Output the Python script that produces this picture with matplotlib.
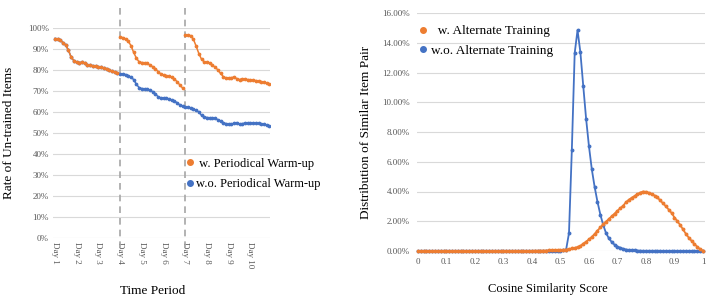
import matplotlib
matplotlib.use("Agg")
import matplotlib.pyplot as plt
from matplotlib.lines import Line2D
from matplotlib.ticker import PercentFormatter

plt.rcParams['font.family'] = ['Liberation Serif', 'DejaVu Serif']

ORANGE = '#ED7D31'
BLUE = '#4472C4'
GRID = '#D9D9D9'
TICK = '#595959'

# ---- left chart: rate of un-trained items, 8 samples per day ----
days = ['Day 1', 'Day 2', 'Day 3', 'Day 4', 'Day 5',
        'Day 6', 'Day 7', 'Day 8', 'Day 9', 'Day 10']
per_day = 8
warmup_days = [4, 7]

# w. periodical warm-up, split at each warm-up
warm_seg1 = [95.1, 95.0, 94.2, 93.2, 92.0, 89.5, 86.2, 84.6,
             83.8, 83.7, 83.8, 83.4, 82.6, 82.4, 82.2, 81.9,
             81.7, 81.4, 81.1, 80.8, 80.1, 79.6, 79.1, 78.6]
warm_seg2 = [95.7, 95.6, 95.0, 93.8, 91.8, 88.5, 85.8, 84.0,
             83.7, 83.6, 83.3, 82.5, 81.7, 80.7, 79.4, 78.2,
             77.6, 77.5, 77.3, 76.6, 75.8, 74.6, 73.0, 71.6]
warm_seg3 = [96.9, 96.8, 96.5, 94.8, 91.5, 88.0, 85.2, 84.0,
             83.8, 83.6, 82.4, 81.5, 80.2, 78.5, 77.0, 76.4,
             76.3, 76.5, 76.8, 76.0, 75.6, 76.0, 75.8, 75.6,
             75.4, 75.3, 75.1, 74.9, 74.6, 74.2, 73.9, 73.5]
# w.o. warm-up: same as above for days 1-3, then keeps decaying
nowarm_rest = [78.3, 78.2, 78.0, 77.5, 76.7, 75.6, 73.3, 71.8,
               71.3, 71.2, 71.0, 70.5, 69.8, 68.8, 67.4, 66.9,
               66.8, 66.7, 66.4, 65.9, 65.3, 64.6, 63.5, 62.8,
               62.6, 62.5, 62.1, 61.5, 60.9, 60.2, 58.5, 57.8,
               57.5, 57.4, 57.3, 57.1, 56.5, 55.9, 55.1, 54.6,
               54.5, 54.5, 54.7, 55.1, 54.4, 54.6, 54.9, 54.9,
               54.9, 54.8, 54.8, 54.7, 54.5, 54.2, 53.9, 53.6]
nowarm = warm_seg1 + nowarm_rest

# ---- right chart: cosine similarity distribution (percent) ----
scores = [i / 100 for i in range(101)]
alt_train = ([0.0] * 30 + [0.01] * 11 +
             [0.02, 0.02, 0.02, 0.03, 0.03, 0.04, 0.04, 0.05, 0.05,
              0.06, 0.08, 0.10, 0.13, 0.17, 0.21, 0.27, 0.34, 0.50,
              0.63, 0.78, 0.95, 1.15, 1.37, 1.58, 1.79, 1.98, 2.16,
              2.34, 2.52, 2.70, 2.88, 3.05, 3.28, 3.45, 3.58, 3.70,
              3.82, 3.93, 4.00, 3.98, 3.92, 3.84, 3.73, 3.60, 3.40,
              3.20, 3.00, 2.78, 2.55, 2.25, 2.00, 1.75, 1.45, 1.15,
              0.90, 0.68, 0.47, 0.28, 0.12, 0.03])
no_alt_train = ([0.0] * 45 +
                [0.01, 0.01, 0.01, 0.02, 0.02, 0.03, 0.05,
                 0.10, 1.20, 6.80, 13.30, 14.85, 13.35, 11.10, 8.90,
                 7.05, 5.50, 4.30, 3.30, 2.45, 1.75, 1.20, 0.85,
                 0.60, 0.42, 0.30, 0.22, 0.15, 0.10, 0.07, 0.05,
                 0.04, 0.03, 0.02] + [0.01] * 7 + [0.0] * 15)

fig = plt.figure(figsize=(7.27, 2.97), dpi=100)

# ================= left =================
ax1 = fig.add_axes([53 / 727, 1 - 238.3 / 297, 217 / 727, 210 / 297])
n = len(nowarm)
idx = list(range(n))
ax1.plot(idx, nowarm, color=BLUE, lw=1.1, marker='o', ms=1.7, zorder=3)
start = 0
for seg in (warm_seg1, warm_seg2, warm_seg3):
    xs = list(range(start, start + len(seg)))
    ax1.plot(xs, seg, color=ORANGE, lw=1.1, marker='o', ms=1.7, zorder=4)
    start += len(seg)

for d in warmup_days:
    ax1.axvline((d - 1) * per_day, ymin=-0.048, ymax=1.11, clip_on=False,
                color='#A6A6A6', lw=1.2, dashes=(4, 3), zorder=2)

ax1.set_ylim(0, 100)
ax1.set_xlim(-0.7, n - 0.8)
ax1.set_yticks(range(0, 101, 10))
ax1.yaxis.set_major_formatter(PercentFormatter(decimals=0))
ax1.set_xticks([i * per_day for i in range(len(days))])
ax1.set_xticklabels(days, rotation=-90, va='top', ha='center')
ax1.grid(axis='y', color=GRID, lw=0.8)
ax1.set_axisbelow(True)
for s in ax1.spines.values():
    s.set_visible(False)
ax1.tick_params(length=0, labelsize=6.5, labelcolor=TICK, pad=3)
ax1.set_ylabel('Rate of Un-trained Items', fontsize=9.5)
ax1.yaxis.set_label_coords(-0.175, 0.5)
ax1.set_xlabel('Time Period', fontsize=9.5)
ax1.xaxis.set_label_coords(0.46, -0.22)

h1 = [Line2D([], [], ls='none', marker='o', ms=4, color=ORANGE),
      Line2D([], [], ls='none', marker='o', ms=4, color=BLUE)]
ax1.legend(h1, [' w. Periodical Warm-up', 'w.o. Periodical Warm-up'],
           loc='center left', bbox_to_anchor=(0.615, 0.307), frameon=False,
           fontsize=9, handlelength=0.5, handletextpad=0.3, labelspacing=0.65,
           borderpad=0, borderaxespad=0)

# ================= right =================
ax2 = fig.add_axes([417 / 727, 1 - 251 / 297, 288 / 727, 238 / 297])
ax2.plot(scores, no_alt_train, color=BLUE, lw=1.3, marker='o', ms=1.8,
         clip_on=False, zorder=3)
ax2.plot(scores, alt_train, color=ORANGE, lw=1.3, marker='o', ms=1.8,
         clip_on=False, zorder=4)
ax2.set_ylim(0, 16)
ax2.set_xlim(-0.003, 1.007)
ax2.set_yticks(range(0, 17, 2))
ax2.yaxis.set_major_formatter(PercentFormatter(decimals=2))
ax2.set_xticks([i / 10 for i in range(11)])
ax2.set_xticklabels(['0', '0.1', '0.2', '0.3', '0.4', '0.5', '0.6',
                     '0.7', '0.8', '0.9', '1'])
ax2.grid(axis='y', color=GRID, lw=0.8)
ax2.set_axisbelow(True)
for s in ax2.spines.values():
    s.set_visible(False)
ax2.tick_params(length=0, labelsize=6.5, labelcolor=TICK, pad=5)
ax2.set_ylabel('Distribution of Similar Item Pair', fontsize=9.5)
ax2.yaxis.set_label_coords(-0.156, 0.5)
ax2.set_xlabel('Cosine Similarity Score', fontsize=9)
ax2.xaxis.set_label_coords(0.455, -0.134)

h2 = [Line2D([], [], ls='none', marker='o', ms=4, color=ORANGE),
      Line2D([], [], ls='none', marker='o', ms=4, color=BLUE)]
ax2.legend(h2, ['  w. Alternate Training', 'w.o. Alternate Training'],
           loc='center left', bbox_to_anchor=(0.01, 0.882), frameon=False,
           fontsize=9.5, handlelength=0.5, handletextpad=0.35,
           labelspacing=0.55, borderpad=0, borderaxespad=0)

fig.savefig('out.png', dpi=100)
